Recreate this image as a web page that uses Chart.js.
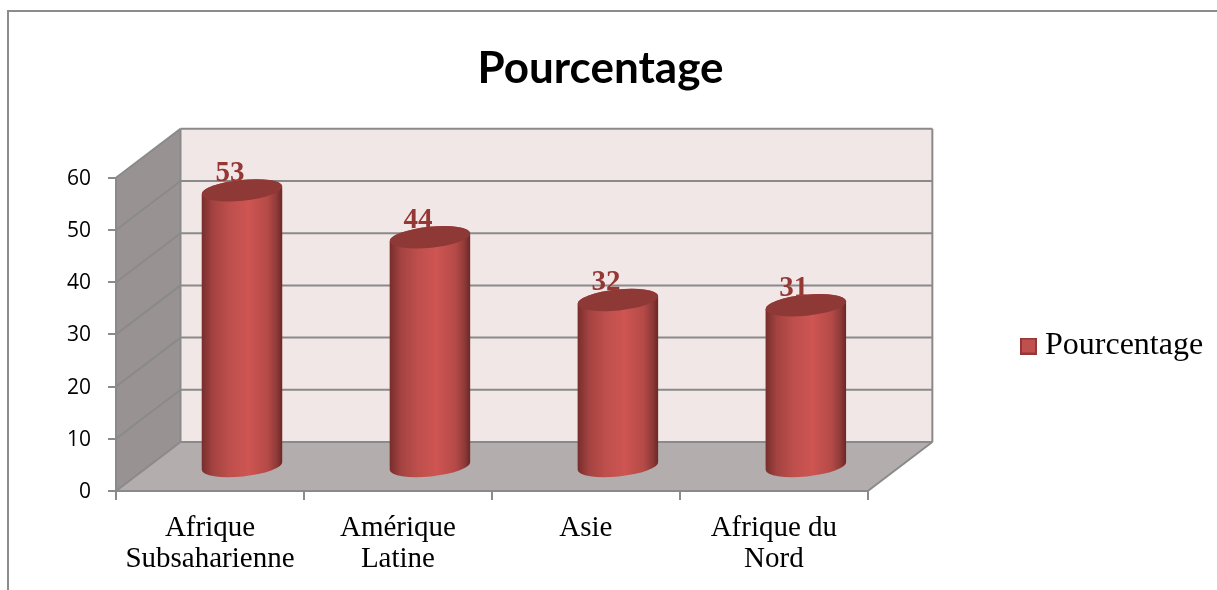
<!DOCTYPE html>
<html>
<head>
<meta charset="utf-8">
<title>Pourcentage</title>
<script src="https://cdn.jsdelivr.net/npm/chart.js@4"></script>
<style>
    body { margin: 0; background: #fff; }
    #cadre { position: absolute; left: 7px; top: 10px; right: 0; bottom: 0; border-top: 2px solid #8c8c8c; border-left: 2px solid #8c8c8c; }
    canvas { position: absolute; left: 0; top: 0; }
</style>
</head>
<body>
<div id="cadre"></div>
<canvas id="grafico" width="1217" height="590"></canvas>
<script>
    // ===== DONNEES =====
    const categories = [["Afrique", "Subsaharienne"], ["Amérique", "Latine"], "Asie", ["Afrique du", "Nord"]];
    const pourcentage = [53, 44, 32, 31];
    const nomSerie = "Pourcentage";

    // ===== EFFET 3D =====
    const murDx = 64.5, murDy = -49;
    const barreDx = 32, barreDy = -24;
    const rotation = -0.1, rayonY = 10.5;

    function formeCylindre(ctx, barre) {
        const rx = barre.width / 2;
        ctx.moveTo(barre.x + rx * Math.cos(rotation), barre.y + rx * Math.sin(rotation));
        ctx.ellipse(barre.x, barre.y, rx, rayonY, rotation, 0, Math.PI, true);
        ctx.ellipse(barre.x, barre.base, rx, rayonY, rotation, Math.PI, 0, true);
        ctx.closePath();
    }

    function polygone(ctx, points, couleur) {
        ctx.beginPath();
        points.forEach((p, i) => i ? ctx.lineTo(p[0], p[1]) : ctx.moveTo(p[0], p[1]));
        ctx.closePath();
        ctx.fillStyle = couleur;
        ctx.fill();
    }

    function ligne(ctx, x1, y1, x2, y2) {
        ctx.beginPath();
        ctx.moveTo(x1, y1);
        ctx.lineTo(x2, y2);
        ctx.stroke();
    }

    // carre de la legende, 17 px
    function carreLegende() {
        const c = document.createElement("canvas");
        c.width = 17;
        c.height = 17;
        const g = c.getContext("2d");
        g.fillStyle = "#C0504D";
        g.fillRect(0, 0, 17, 17);
        g.strokeStyle = "#953735";
        g.lineWidth = 2;
        g.strokeRect(1, 1, 15, 15);
        return c;
    }

    const plugin3d = {
        id: "plugin3d",
        afterLayout(chart) {
            // legende et titre : memes places que dans l'original
            const legende = chart.legend;
            const w = legende.right - legende.left;
            legende.left = 1018;
            legende.right = 1018 + w;
            legende.top = 326;
            legende.bottom = 366;
            chart.titleBlock.left += 131;
            chart.titleBlock.right += 7;
        },
        beforeDraw(chart) {
            const { ctx, scales: { x, y } } = chart;
            const g = x.left, d = x.right, h = y.getPixelForValue(60), b = y.getPixelForValue(0);

            polygone(ctx, [[g + murDx, h + murDy], [d + murDx, h + murDy], [d + murDx, b + murDy], [g + murDx, b + murDy]], "#F2E7E7");
            polygone(ctx, [[g, h], [g + murDx, h + murDy], [g + murDx, b + murDy], [g, b]], "#989392");
            polygone(ctx, [[g, b], [d, b], [d + murDx, b + murDy], [g + murDx, b + murDy]], "#B4ADAD");

            ctx.save();
            ctx.strokeStyle = "#8A8A8A";
            ctx.lineWidth = 2;
            y.ticks.forEach(t => {
                const py = y.getPixelForValue(t.value);
                ligne(ctx, g, py, g + murDx, py + murDy);
                ligne(ctx, g + murDx, py + murDy, d + murDx, py + murDy);
            });
            ligne(ctx, g + murDx, h + murDy, g + murDx, b + murDy);
            ligne(ctx, d + murDx, h + murDy, d + murDx, b + murDy);
            ligne(ctx, d, b, d + murDx, b + murDy);
            ctx.restore();
        },
        beforeDatasetsDraw(chart) {
            // la barre de la librairie reste dans le cylindre
            const ctx = chart.ctx;
            ctx.save();
            ctx.translate(barreDx, barreDy);
            ctx.beginPath();
            chart.getDatasetMeta(0).data.forEach(barre => formeCylindre(ctx, barre));
            ctx.clip();
        },
        afterDatasetsDraw(chart) {
            const ctx = chart.ctx;
            ctx.restore();

            const barres = chart.getDatasetMeta(0).data;

            // etiquettes, derriere les cylindres
            ctx.save();
            ctx.font = "bold 29px 'Liberation Serif'";
            ctx.fillStyle = "#953735";
            ctx.textAlign = "center";
            ctx.textBaseline = "middle";
            barres.forEach((barre, i) => ctx.fillText(pourcentage[i], barre.x + 20, barre.y - 41));
            ctx.restore();

            ctx.save();
            ctx.translate(barreDx, barreDy);
            barres.forEach(barre => {
                const rx = barre.width / 2;
                const grad = ctx.createLinearGradient(barre.x - rx, 0, barre.x + rx, 0);
                grad.addColorStop(0, "#772D2B");
                grad.addColorStop(0.14, "#A34341");
                grad.addColorStop(0.35, "#BE4F4C");
                grad.addColorStop(0.58, "#CE5552");
                grad.addColorStop(0.82, "#B44A47");
                grad.addColorStop(0.93, "#8E3A38");
                grad.addColorStop(1, "#6A2725");

                ctx.beginPath();
                formeCylindre(ctx, barre);
                ctx.fillStyle = grad;
                ctx.fill();

                ctx.beginPath();
                ctx.ellipse(barre.x, barre.y, rx, rayonY, rotation, 0, Math.PI * 2);
                ctx.fillStyle = "#8F3937";
                ctx.fill();
            });
            ctx.restore();
        }
    };

    // ===== GRAPHIQUE =====
    new Chart(document.getElementById("grafico"), {
        type: "bar",
        data: {
            labels: categories,
            datasets: [{
                label: nomSerie,
                data: pourcentage,
                backgroundColor: "#C0504D",
                borderWidth: 0,
                barPercentage: 0.43,
                categoryPercentage: 1
            }]
        },
        options: {
            responsive: false,
            animation: false,
            layout: { padding: { right: 154 } },
            scales: {
                x: {
                    afterFit: s => { s.height = 99; },
                    border: { color: "#8A8A8A", width: 2 },
                    grid: { drawOnChartArea: false, tickLength: 9, color: "#8A8A8A", lineWidth: 2 },
                    ticks: {
                        color: "#000",
                        padding: 13,
                        maxRotation: 0,
                        autoSkip: false,
                        font: { family: "'Liberation Serif'", size: 29, lineHeight: 1.07 }
                    }
                },
                y: {
                    min: 0,
                    max: 60,
                    afterFit: s => { s.width = 116; },
                    border: { color: "#8A8A8A", width: 2 },
                    grid: { drawOnChartArea: false, tickLength: 8, color: "#8A8A8A", lineWidth: 2 },
                    ticks: {
                        stepSize: 10,
                        color: "#000",
                        padding: 17,
                        labelOffset: 1,
                        font: { family: "'Open Sans'", size: 21 }
                    }
                }
            },
            plugins: {
                title: {
                    display: true,
                    text: nomSerie,
                    color: "#000",
                    font: { family: "Lato", size: 44, weight: "bold", lineHeight: 1.2 },
                    padding: { top: 42, bottom: 83 }
                },
                legend: {
                    position: "right",
                    labels: {
                        usePointStyle: true,
                        pointStyleWidth: 1,
                        padding: 10,
                        color: "#000",
                        font: { family: "'Liberation Serif'", size: 32 },
                        generateLabels: () => [{
                            text: nomSerie,
                            fontColor: "#000",
                            pointStyle: carreLegende(),
                            datasetIndex: 0
                        }]
                    }
                },
                tooltip: { enabled: false }
            }
        },
        plugins: [plugin3d]
    });
</script>
</body>
</html>
